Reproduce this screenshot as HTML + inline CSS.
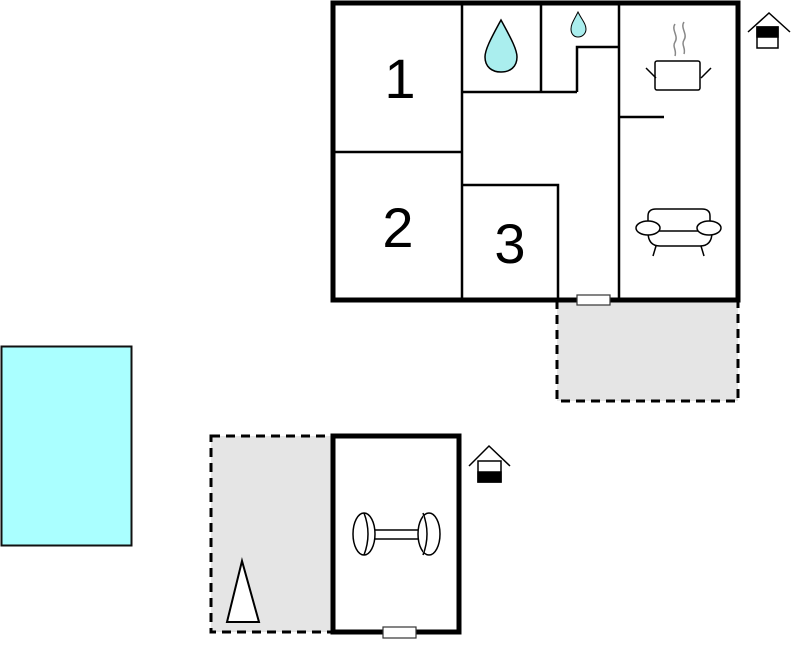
<!DOCTYPE html>
<html><head><meta charset="utf-8"><style>html,body{margin:0;padding:0;background:#fff}svg{display:block}</style></head>
<body>
<svg width="799" height="652" viewBox="0 0 799 652" xmlns="http://www.w3.org/2000/svg" font-family="Liberation Sans, sans-serif">
<rect x="557" y="300" width="181" height="101" fill="#e5e5e5" stroke="#000" stroke-width="3" stroke-dasharray="9,6"/>
<rect x="211" y="436" width="122" height="196" fill="#e5e5e5" stroke="#000" stroke-width="3" stroke-dasharray="9,6"/>
<rect x="1.5" y="346.5" width="130" height="199" fill="#aaffff" stroke="#111" stroke-width="2"/>
<rect x="333" y="3" width="405" height="297" fill="#fff" stroke="#000" stroke-width="5"/>
<g stroke="#000" stroke-width="2.5" fill="none">
<line x1="462" y1="3" x2="462" y2="300"/>
<line x1="333" y1="152" x2="462" y2="152"/>
<line x1="462" y1="92" x2="577" y2="92"/>
<line x1="541" y1="3" x2="541" y2="92"/>
<polyline points="577,92 577,47 619,47"/>
<line x1="619" y1="3" x2="619" y2="300"/>
<line x1="619" y1="117" x2="664" y2="117"/>
<polyline points="462,185 558,185 558,300"/>
</g>
<rect x="577" y="295" width="33" height="10" fill="#fff" stroke="#333" stroke-width="1.2"/>
<text x="400" y="98" font-size="56" text-anchor="middle">1</text>
<text x="398" y="247" font-size="56" text-anchor="middle">2</text>
<text x="510" y="263" font-size="56" text-anchor="middle">3</text>
<path d="M501,20 C490,40 485,50 485,57 C485,67 492,72 501,72 C510,72 517,67 517,57 C517,50 512,40 501,20 Z" fill="#aaeeee" stroke="#000" stroke-width="1.5"/>
<path d="M578,12 C574,20 571,24 571,29 C571,34 574,37 578,37 C582,37 586,34 586,29 C586,24 582,20 578,12 Z" fill="#aaeeee" stroke="#000" stroke-width="1"/>
<g stroke="#000" stroke-width="1.5" fill="#fff">
<rect x="655" y="61" width="45" height="29" rx="2"/>
<line x1="646" y1="68" x2="656" y2="78"/>
<line x1="711" y1="68" x2="701" y2="78"/>
</g>
<g stroke="#888" stroke-width="1.5" fill="none">
<path d="M675,24 c-4,6 4,12 0,18 c-3,5 2,8 0,14"/>
<path d="M684,22 c-4,6 4,12 0,18 c-3,5 2,8 0,14"/>
</g>
<g stroke="#000" stroke-width="1.5" fill="#fff">
<path d="M648,230 L648,216 Q648,209 656,209 L702,209 Q710,209 710,216 L710,230"/>
<path d="M648,232 Q648,246 660,246 L700,246 Q712,246 712,232"/>
<line x1="656" y1="246" x2="653" y2="256"/>
<line x1="701" y1="246" x2="704" y2="256"/>
<line x1="655" y1="231" x2="703" y2="231"/>
<ellipse cx="648" cy="228" rx="12" ry="7"/>
<ellipse cx="709" cy="228" rx="12" ry="7"/>
</g>
<g stroke="#000" stroke-width="1.5">
<polyline points="748,32 769,13 790,32" fill="none"/>
<rect x="757" y="27" width="21" height="21" fill="#fff"/>
<rect x="757" y="27" width="21" height="10" fill="#000"/>
</g>
<rect x="333" y="436" width="126" height="196" fill="#fff" stroke="#000" stroke-width="5"/>
<rect x="383" y="627" width="33" height="11" fill="#fff" stroke="#333" stroke-width="1.2"/>
<g stroke="#000" stroke-width="1.5" fill="#fff">
<rect x="366" y="530" width="56" height="9" rx="4"/>
<ellipse cx="364" cy="534" rx="11" ry="21"/>
<path d="M364,513 Q372,534 364,555"/>
<ellipse cx="429" cy="534" rx="11" ry="21"/>
<path d="M423,513 Q431,534 423,555"/>
</g>
<polygon points="242,561 227,622 259,622" fill="#fff" stroke="#000" stroke-width="2"/>
<g stroke="#000" stroke-width="1.5">
<polyline points="469,466 489,446 510,466" fill="none"/>
<rect x="478" y="461" width="23" height="21" fill="#fff"/>
<rect x="478" y="472" width="23" height="10" fill="#000"/>
</g>
</svg>
</body></html>
